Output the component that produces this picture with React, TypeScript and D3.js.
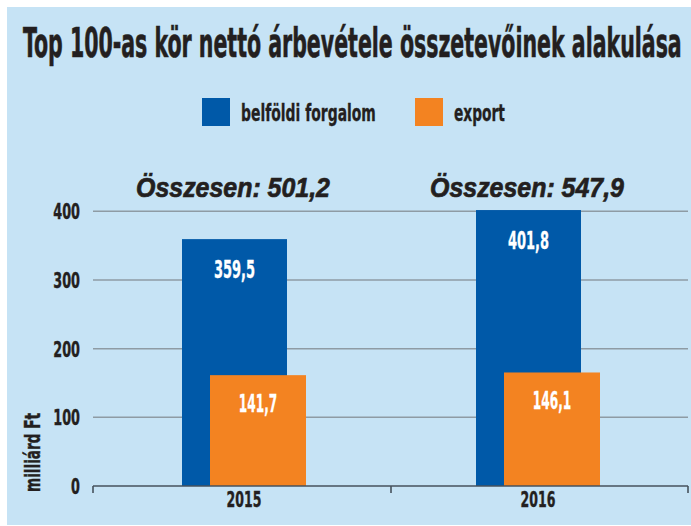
import * as d3 from "d3";
import { useLayoutEffect, useRef, useState } from "react";

const years = ["2015", "2016"];
const domestic = [359.5, 401.8];
const exportValues = [141.7, 146.1];
// export bars are drawn taller than their labels in the original
const exportDrawn = [161.4, 165.3];
const yTicks = [0, 100, 200, 300, 400];

const legendItems = [
  { label: "belföldi forgalom", color: "#0059a8" },
  { label: "export", color: "#f38321" },
];

const W = 691;
const H = 526;
const BG = "#c6e3f5";
const INK = "#231f20";
const NARROW = "'Liberation Sans Narrow', 'DejaVu Sans Condensed', 'Liberation Sans', sans-serif";

const hu = d3.formatLocale({
  decimal: ",",
  thousands: " ",
  grouping: [3],
  currency: ["", ""],
});
const fmt = hu.format(".1f");

// rough width of a condensed number label
const numWidth = (s: string, d: number, c: number) =>
  s.split("").reduce((acc, ch) => acc + (ch === "," ? c : d), 0);

// text squeezed horizontally to a given width
function FitText({ x, y, width, anchor = "start", children, ...rest }: any) {
  const ref = useRef<SVGTextElement>(null);
  const [sx, setSx] = useState(1);
  useLayoutEffect(() => {
    if (!ref.current) return;
    const len = ref.current.getComputedTextLength();
    if (len > 0) setSx(width / len);
  }, [width, children]);
  return (
    <g transform={`translate(${x},${y}) scale(${sx},1)`}>
      <text ref={ref} x={0} y={0} textAnchor={anchor} {...rest}>
        {children}
      </text>
    </g>
  );
}

export default function App() {
  const plotLeft = 93;
  const plotRight = 688;
  const y = d3.scaleLinear().domain([0, 400]).range([486, 211.3]);
  const x = d3.scaleBand().domain(years).range([97, 685]);
  const center = (yr: string) => (x(yr) as number) + x.bandwidth() / 2;

  const xTicks = [plotLeft, x("2016") as number, plotRight];

  const bold = {
    fontFamily: NARROW,
    fontWeight: "bold",
  };

  return (
    <svg
      width={W}
      height={H}
      style={{ position: "absolute", left: 0, top: 0, display: "block" }}
    >
      <rect x={0} y={0} width={W} height={H} fill="#ffffff" />
      <rect x={7} y={7} width={W - 7} height={518} fill={BG} />

      {/* cím */}
      <FitText
        x={23}
        y={57}
        width={659}
        {...bold}
        fontSize={40}
        fill={INK}
        stroke={INK}
        strokeWidth={0.6}
      >
        Top 100-as kör nettó árbevétele összetevőinek alakulása
      </FitText>

      {/* jelmagyarázat */}
      {legendItems.map((l, i) => {
        const lx = [202, 415][i];
        const tw = [135, 51][i];
        return (
          <g key={l.label}>
            <rect x={lx} y={98} width={28} height={28} fill={l.color} />
            <FitText
              x={lx + 39}
              y={121}
              width={tw}
              {...bold}
              fontSize={23}
              fill={INK}
              stroke={INK}
              strokeWidth={0.3}
            >
              {l.label}
            </FitText>
          </g>
        );
      })}

      {/* rácsvonalak */}
      {yTicks.map((t) => (
        <g key={t}>
          {t > 0 && (
            <line
              x1={plotLeft}
              x2={plotRight}
              y1={y(t)}
              y2={y(t)}
              stroke="#8e9ba4"
              strokeWidth={1.5}
            />
          )}
          <FitText
            x={80}
            y={y(t) + 8}
            anchor="end"
            width={numWidth(String(t), 8.9, 4)}
            {...bold}
            fontSize={21.5}
            fill={INK}
            stroke={INK}
            strokeWidth={0.4}
          >
            {t}
          </FitText>
        </g>
      ))}

      <g transform="translate(40, 452.5) rotate(-90)">
        <FitText
          x={0}
          y={0}
          anchor="middle"
          width={79}
          {...bold}
          fontSize={21}
          fill={INK}
          stroke={INK}
          strokeWidth={0.4}
        >
          milliárd Ft
        </FitText>
      </g>

      {/* oszlopok */}
      {years.map((yr, i) => {
        const c = center(yr);
        const total = domestic[i] + exportValues[i];
        const dTop = y(domestic[i]);
        const eTop = y(exportDrawn[i]);
        const dLab = fmt(domestic[i]);
        const eLab = fmt(exportValues[i]);
        return (
          <g key={yr}>
            <rect x={c - 62} y={dTop} width={105} height={y(0) - dTop} fill={legendItems[0].color} />
            <rect x={c - 34} y={eTop} width={96} height={y(0) - eTop} fill={legendItems[1].color} />
            <FitText
              x={c - 62 + 105 / 2}
              y={dTop + 38.5}
              anchor="middle"
              width={numWidth(dLab, 9.3, 4)}
              {...bold}
              fontSize={24}
              fill="#ffffff"
              stroke="#ffffff"
              strokeWidth={0.3}
            >
              {dLab}
            </FitText>
            <FitText
              x={c - 34 + 96 / 2}
              y={eTop + 37}
              anchor="middle"
              width={numWidth(eLab, 8.6, 4)}
              {...bold}
              fontSize={24}
              fill="#ffffff"
              stroke="#ffffff"
              strokeWidth={0.3}
            >
              {eLab}
            </FitText>
            <FitText
              x={c - 11}
              y={197}
              anchor="middle"
              width={194}
              fontFamily="'Liberation Sans', Arial, sans-serif"
              fontWeight="bold"
              fontStyle="italic"
              fontSize={28}
              fill={INK}
              stroke={INK}
              strokeWidth={0.7}
            >
              {`Összesen: ${fmt(total)}`}
            </FitText>
            <FitText
              x={c}
              y={507}
              anchor="middle"
              width={numWidth(yr, 8.7, 4)}
              {...bold}
              fontSize={21}
              fill={INK}
              stroke={INK}
              strokeWidth={0.4}
            >
              {yr}
            </FitText>
          </g>
        );
      })}

      {/* x tengely */}
      <line x1={plotLeft} x2={plotRight} y1={y(0)} y2={y(0)} stroke="#46525c" strokeWidth={1.6} />
      {xTicks.map((tx, i) => (
        <line key={i} x1={tx} x2={tx} y1={y(0)} y2={y(0) + 7} stroke="#46525c" strokeWidth={1.6} />
      ))}
    </svg>
  );
}
